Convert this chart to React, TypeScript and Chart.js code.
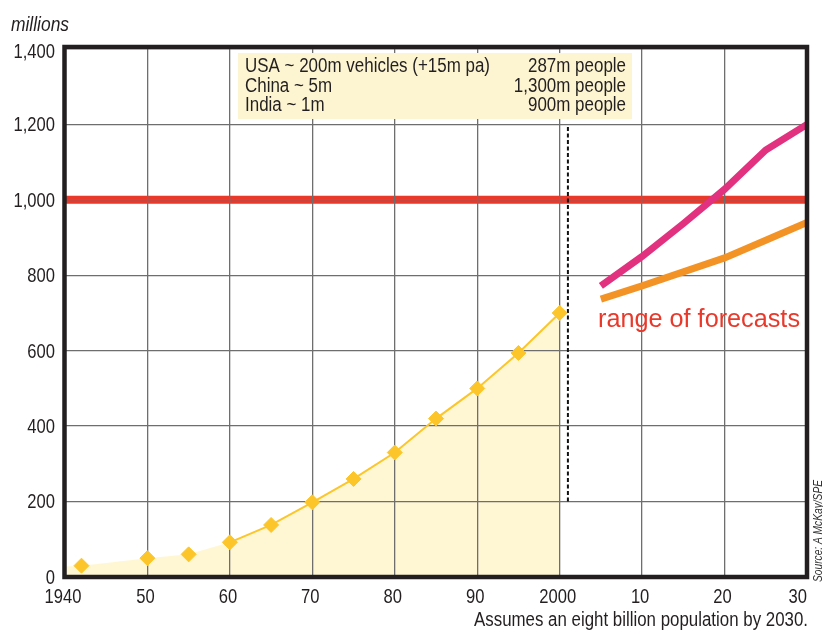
import React, { useEffect, useRef } from 'react';
import { Chart, registerables } from 'chart.js';

Chart.register(...registerables);

// ---- data ----
const historyYears = [1942, 1950, 1955, 1960, 1965, 1970, 1975, 1980, 1985, 1990, 1995, 2000];
const historyVehicles = [30, 50, 60, 92, 138, 198, 260, 330, 420, 500, 594, 700];
const fillStartYear = 1940;
const fillStartValue = 28;
const connectedFromYear = 1960;

const forecastYears = [2005, 2010, 2015, 2020, 2025, 2030];
const highForecast = [772, 850, 937, 1028, 1132, 1200];
const lowForecast = [737, 772, 809, 846, 893, 940];

const thresholdYears = [1940, 2030];
const thresholdValue = 1000;

const cutoffYear = 2001;
const cutoffRange = [200, 1200];

const xMin = 1940;
const xMax = 2030;
const xStep = 10;
const yMin = 0;
const yMax = 1400;
const yStep = 200;

const noteLeft = ['USA ~ 200m vehicles (+15m pa)', 'China ~ 5m', 'India ~ 1m'];
const noteRight = ['287m people', '1,300m people', '900m people'];
const yAxisTitle = 'millions';
const forecastLabel = 'range of forecasts';
const footnote = 'Assumes an eight billion population by 2030.';
const sourceNote = 'Source: A McKay/SPE';

// ---- styles ----
const SANS = "'Liberation Sans', Arial, sans-serif";
const NARROW_SCALE = 0.79;
const INK = '#231f20';
const YELLOW = '#fcc62a';
const FILL = '#fff7d4';
const RED = '#e8392b';
const PINK = '#e1317f';
const ORANGE = '#f39325';
const GRID = '#6e6e6e';
const THRESHOLD_INDEX = 1;

function xLabel(v: number): string {
  if (v === xMin || v === 2000) return String(v);
  return String(v % 100);
}

function fitText(ctx: CanvasRenderingContext2D, text: string, x: number, y: number, width: number, align: CanvasTextAlign) {
  const w = ctx.measureText(text).width;
  ctx.save();
  ctx.translate(x, y);
  ctx.scale(width / w, 1);
  ctx.textAlign = align;
  ctx.fillText(text, 0, 0);
  ctx.restore();
}

function narrowText(ctx: CanvasRenderingContext2D, text: string, x: number, y: number, align: CanvasTextAlign) {
  ctx.save();
  ctx.translate(x, y);
  ctx.scale(NARROW_SCALE, 1);
  ctx.textAlign = align;
  ctx.fillText(text, 0, 0);
  ctx.restore();
}

const decor = {
  id: 'decor',
  beforeDraw(chart: any) {
    const ctx = chart.ctx;
    const a = chart.chartArea;
    ctx.save();
    ctx.beginPath();
    ctx.rect(a.left, a.top, a.right - a.left, a.bottom - a.top);
    ctx.clip();
    chart.getDatasetMeta(THRESHOLD_INDEX).controller.draw();
    ctx.restore();
  },
  beforeDatasetDraw(_chart: any, args: any) {
    if (args.index === THRESHOLD_INDEX) return false;
    return true;
  },
  beforeDatasetsDraw(chart: any) {
    const ctx = chart.ctx;
    ctx.save();
    ctx.fillStyle = '#fdf5d2';
    ctx.fillRect(238, 53, 394, 66);
    ctx.fillStyle = INK;
    ctx.font = `19.5px ${SANS}`;
    ctx.textBaseline = 'alphabetic';
    const base = [72, 91.5, 111];
    const k = 245 / ctx.measureText(noteLeft[0]).width;
    noteLeft.forEach((t, i) => fitText(ctx, t, 245, base[i], ctx.measureText(t).width * k, 'left'));
    noteRight.forEach((t, i) => fitText(ctx, t, 626, base[i], ctx.measureText(t).width * k, 'right'));
    ctx.restore();
  },
  afterDraw(chart: any) {
    const ctx = chart.ctx;
    const a = chart.chartArea;
    const xs = chart.scales.x;
    const ys = chart.scales.y;
    ctx.save();
    // frame
    ctx.strokeStyle = INK;
    ctx.lineWidth = 4.5;
    ctx.strokeRect(a.left - 0.5, a.top - 2, a.right - a.left + 0.5, a.bottom - a.top + 2);
    // tick labels
    ctx.fillStyle = INK;
    ctx.font = `21px ${SANS}`;
    ctx.textBaseline = 'alphabetic';
    xs.ticks.forEach((t: any) => {
      const v = t.value;
      const px = xs.getPixelForValue(v);
      narrowText(ctx, xLabel(v), v === xMax ? px : px - 2, 603, v === xMax ? 'right' : 'center');
    });
    ctx.textBaseline = 'middle';
    ys.ticks.forEach((t: any) => {
      const v = t.value;
      const py = ys.getPixelForValue(v) + (v === yMax ? 3 : 1);
      narrowText(ctx, Number(v).toLocaleString('en-US'), 55, py, 'right');
    });
    ctx.textBaseline = 'alphabetic';
    // y title
    ctx.font = `italic 19.5px ${SANS}`;
    fitText(ctx, yAxisTitle, 11, 31, 58, 'left');
    // forecast label
    ctx.fillStyle = RED;
    ctx.font = `25px ${SANS}`;
    fitText(ctx, forecastLabel, 598, 327, 202, 'left');
    // footnote
    ctx.fillStyle = INK;
    ctx.font = `19.5px ${SANS}`;
    fitText(ctx, footnote, 808, 626, 334, 'right');
    // source
    ctx.fillStyle = '#333';
    ctx.font = `italic 12px ${SANS}`;
    ctx.translate(819, 582);
    ctx.rotate(-Math.PI / 2);
    ctx.textBaseline = 'middle';
    fitText(ctx, sourceNote, 0, 0, 102, 'left');
    ctx.restore();
  },
};

export default function App() {
  const ref = useRef<HTMLCanvasElement>(null);
  useEffect(() => {
    document.body.style.margin = '0';
    const canvas = ref.current;
    if (!canvas) return;
    const history = [{ x: fillStartYear, y: fillStartValue }].concat(
      historyYears.map((x, i) => ({ x, y: historyVehicles[i] }))
    );
    const chart = new Chart(canvas, {
      type: 'line',
      data: {
        datasets: [
          {
            data: history,
            borderColor: YELLOW,
            borderWidth: 2,
            backgroundColor: FILL,
            fill: 'origin',
            tension: 0,
            pointStyle: 'rectRot',
            pointRadius: (c: any) => (c.dataIndex === 0 ? 0 : 7.5),
            pointBackgroundColor: YELLOW,
            pointBorderColor: YELLOW,
            pointBorderWidth: 1,
            segment: {
              borderColor: (c: any) => (c.p0.parsed.x < connectedFromYear ? 'rgba(0,0,0,0)' : YELLOW),
            },
          } as any,
          {
            data: thresholdYears.map((x) => ({ x, y: thresholdValue })),
            borderColor: RED,
            borderWidth: 8,
            pointRadius: 0,
            fill: false,
          },
          {
            data: cutoffRange.map((y) => ({ x: cutoffYear, y })),
            borderColor: '#111',
            borderWidth: 2,
            borderDash: [4, 2.5],
            pointRadius: 0,
            fill: false,
          },
          {
            data: forecastYears.map((x, i) => ({ x, y: highForecast[i] })),
            borderColor: PINK,
            borderWidth: 7,
            borderJoinStyle: 'miter',
            pointRadius: 0,
            fill: false,
          },
          {
            data: forecastYears.map((x, i) => ({ x, y: lowForecast[i] })),
            borderColor: ORANGE,
            borderWidth: 7,
            borderJoinStyle: 'miter',
            pointRadius: 0,
            fill: false,
          },
        ],
      },
      options: {
        animation: false,
        responsive: false,
        events: [],
        layout: { padding: { top: 49, right: 16, left: 0, bottom: 0 } },
        plugins: {
          legend: { display: false },
          tooltip: { enabled: false },
          filler: { drawTime: 'beforeDraw' },
        } as any,
        scales: {
          x: {
            type: 'linear',
            min: xMin,
            max: xMax,
            grid: { color: GRID, lineWidth: 1.3, drawTicks: false },
            border: { display: false },
            afterFit: (s: any) => { s.height = 57; },
            ticks: { stepSize: xStep, display: false, autoSkip: false },
          },
          y: {
            min: yMin,
            max: yMax,
            grid: { color: GRID, lineWidth: 1.3, drawTicks: false },
            border: { display: false },
            afterFit: (s: any) => { s.width = 65; },
            ticks: { stepSize: yStep, display: false },
          },
        },
      },
      plugins: [decor],
    });
    return () => chart.destroy();
  }, []);
  return (
    <div style={{ width: 823, height: 634 }}>
      <canvas ref={ref} width={823} height={634} style={{ display: 'block' }} />
    </div>
  );
}
